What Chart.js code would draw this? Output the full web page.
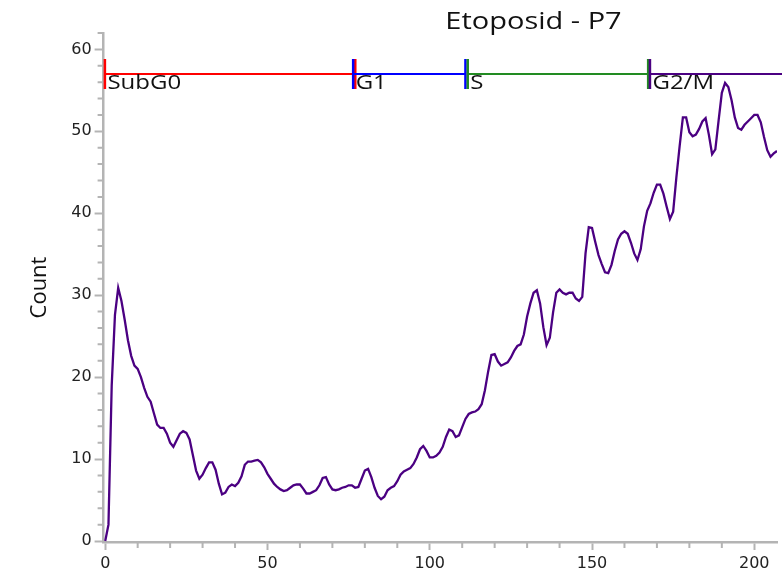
<!DOCTYPE html>
<html>
<head>
<meta charset="utf-8">
<script src="https://cdn.jsdelivr.net/npm/chart.js@4.4.1/dist/chart.umd.min.js"></script>
<style>
  html, body { margin: 0; padding: 0; background: #fff; }
  #wrap { width: 782px; height: 586px; }
</style>
</head>
<body>
<div id="wrap"><canvas id="histChart" width="782" height="586"></canvas></div>
<script>
var chartTitle = 'Etoposid - P7';
var yLabel = 'Count';

// histogram counts per channel
var counts = [
  0, 2, 19, 27.6, 30.9, 29.3, 27.0, 24.5, 22.6, 21.4,
  21.0, 20.0, 18.7, 17.6, 17.0, 15.6, 14.2, 13.8, 13.8, 13.1,
  12.0, 11.5, 12.3, 13.1, 13.4, 13.2, 12.4, 10.5, 8.6, 7.6,
  8.1, 8.9, 9.6, 9.6, 8.7, 7.0, 5.7, 5.9, 6.6, 6.9,
  6.7, 7.1, 7.9, 9.3, 9.7, 9.7, 9.8, 9.9, 9.6, 9.0,
  8.2, 7.6, 7.0, 6.6, 6.3, 6.1, 6.2, 6.5, 6.8, 6.9,
  6.9, 6.4, 5.8, 5.8, 6.0, 6.2, 6.8, 7.7, 7.8, 6.9,
  6.3, 6.2, 6.3, 6.5, 6.6, 6.8, 6.8, 6.5, 6.6, 7.6,
  8.6, 8.8, 7.8, 6.5, 5.5, 5.1, 5.4, 6.2, 6.5, 6.7,
  7.3, 8.1, 8.5, 8.7, 8.9, 9.4, 10.2, 11.2, 11.6, 11.0,
  10.2, 10.2, 10.4, 10.8, 11.5, 12.7, 13.6, 13.4, 12.7, 12.9,
  13.9, 14.9, 15.5, 15.7, 15.8, 16.1, 16.7, 18.4, 20.7, 22.7,
  22.8, 21.9, 21.4, 21.6, 21.8, 22.4, 23.2, 23.8, 24.0, 25.2,
  27.4, 29.0, 30.3, 30.6, 29.0, 26.1, 23.9, 24.8, 27.9, 30.3,
  30.7, 30.3, 30.1, 30.3, 30.3, 29.6, 29.3, 29.8, 35.1, 38.3,
  38.2, 36.5, 34.9, 33.8, 32.8, 32.7, 33.7, 35.4, 36.8, 37.5,
  37.8, 37.5, 36.4, 35.1, 34.3, 35.6, 38.4, 40.3, 41.2, 42.5,
  43.5, 43.5, 42.4, 40.8, 39.3, 40.2, 44.4, 48.2, 51.7, 51.7,
  49.9, 49.4, 49.6, 50.3, 51.2, 51.6, 49.6, 47.2, 47.8, 51.3,
  54.7, 55.9, 55.4, 53.8, 51.7, 50.4, 50.2, 50.8, 51.2, 51.6,
  52.0, 52.0, 51.1, 49.3, 47.7, 46.9, 47.3, 47.6
];
var channels = counts.map(function (c, i) { return i; });

var xTicks = [0, 50, 100, 150, 200];
var xMinor = [10, 20, 30, 40, 60, 70, 80, 90, 110, 120, 130, 140, 160, 170, 180, 190];
var yTicks = [0, 10, 20, 30, 40, 50, 60];
var yMinor = [2, 4, 6, 8, 12, 14, 16, 18, 22, 24, 26, 28, 32, 34, 36, 38, 42, 44, 46, 48, 52, 54, 56, 58, 62];

// gates (marker lines at the top)
var gateNames = ['SubG0', 'G1', 'S', 'G2/M'];
var gateStart = [-0.1, 76.4, 111.7, 167.85];
var gateEnd = [77.05, 111.0, 167.3, 260];
var gateColors = ['#ff0000', '#0000ff', '#228b22', '#4b0082'];
var gateLevel = 57;

var axisGrey = '#b4b4b4';

function wideText(ctx, text, px, py, align, sx) {
  ctx.save();
  ctx.translate(px, py);
  ctx.scale(sx, 1);
  ctx.textAlign = align;
  ctx.fillText(text, 0, 0);
  ctx.restore();
}

var overlay = {
  id: 'overlay',
  afterDraw: function (chart) {
    var ctx = chart.ctx;
    var xs = chart.scales.x, ys = chart.scales.y, area = chart.chartArea;
    ctx.save();

    // minor ticks
    ctx.strokeStyle = axisGrey;
    ctx.lineWidth = 2;
    ctx.beginPath();
    yMinor.forEach(function (v) {
      var py = ys.getPixelForValue(v);
      ctx.moveTo(area.left - 6, py);
      ctx.lineTo(area.left, py);
    });
    xMinor.forEach(function (v) {
      var px = xs.getPixelForValue(v);
      ctx.moveTo(px, area.bottom);
      ctx.lineTo(px, area.bottom + 6);
    });
    ctx.stroke();

    // gate lines
    var gy = ys.getPixelForValue(gateLevel);
    gateNames.forEach(function (name, i) {
      var x0 = xs.getPixelForValue(gateStart[i]);
      var x1 = Math.min(xs.getPixelForValue(gateEnd[i]), chart.width + 5);
      ctx.strokeStyle = gateColors[i];
      ctx.lineWidth = 2;
      ctx.beginPath();
      ctx.moveTo(x0, gy);
      ctx.lineTo(x1, gy);
      ctx.stroke();
      ctx.lineWidth = 2.5;
      ctx.beginPath();
      ctx.moveTo(x0, gy - 15);
      ctx.lineTo(x0, gy + 15);
      ctx.moveTo(x1, gy - 15);
      ctx.lineTo(x1, gy + 15);
      ctx.stroke();
    });

    // gate labels
    ctx.fillStyle = '#111';
    ctx.font = '20px "Open Sans"';
    ctx.textBaseline = 'alphabetic';
    gateNames.forEach(function (name, i) {
      wideText(ctx, name, xs.getPixelForValue(gateStart[i]) + 2.5, gy + 15, 'left', 1.2);
    });

    // title
    ctx.font = '23px "Open Sans"';
    wideText(ctx, chartTitle, 533.5, 28.5, 'center', 1.26);

    ctx.restore();
  }
};

var ctx = document.getElementById('histChart').getContext('2d');
var histChart = new Chart(ctx, {
  type: 'line',
  data: {
    datasets: [{
      label: chartTitle,
      data: channels.map(function (c, i) { return { x: c, y: counts[i] }; }),
      borderColor: '#4b0082',
      borderWidth: 2.3,
      pointRadius: 0,
      tension: 0,
      fill: false
    }]
  },
  options: {
    responsive: false,
    animation: false,
    layout: { padding: { top: 33, right: 5, left: 0, bottom: 0 } },
    plugins: {
      legend: { display: false },
      tooltip: { enabled: false },
      title: { display: false }
    },
    scales: {
      x: {
        type: 'linear',
        min: -0.5,
        max: 207,
        afterBuildTicks: function (s) { s.ticks = xTicks.map(function (v) { return { value: v }; }); },
        afterFit: function (s) { s.height = 44; },
        grid: { drawOnChartArea: false, drawTicks: true, tickLength: 8, tickColor: axisGrey, tickWidth: 2 },
        border: { display: true, color: axisGrey, width: 2.5 },
        ticks: { color: '#222', font: { family: 'DejaVu Sans', size: 16 }, padding: 4, maxRotation: 0 }
      },
      y: {
        type: 'linear',
        min: -0.12,
        max: 62,
        afterBuildTicks: function (s) { s.ticks = yTicks.map(function (v) { return { value: v }; }); },
        afterFit: function (s) { s.width = 103.6; },
        grid: { drawOnChartArea: false, drawTicks: true, tickLength: 9, tickColor: axisGrey, tickWidth: 2 },
        border: { display: true, color: axisGrey, width: 2.5 },
        ticks: { color: '#222', font: { family: 'DejaVu Sans', size: 16 }, padding: 3 },
        title: {
          display: true,
          text: yLabel,
          color: '#111',
          font: { family: 'Open Sans', size: 22 },
          padding: { top: 27, bottom: 0 }
        }
      }
    }
  },
  plugins: [overlay]
});
</script>
</body>
</html>
